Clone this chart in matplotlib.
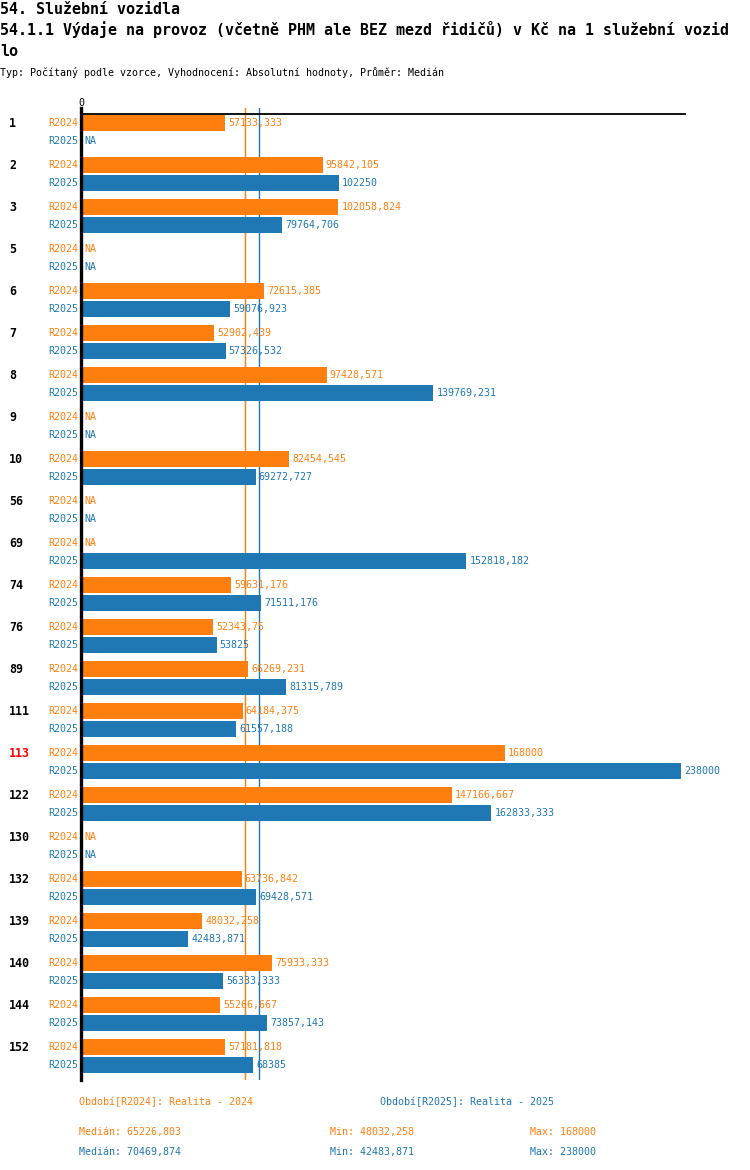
import numpy as np
import matplotlib
matplotlib.use("Agg")
import matplotlib.pyplot as plt

# ---- data ----
groups = ["1", "2", "3", "5", "6", "7", "8", "9", "10", "56", "69", "74", "76",
          "89", "111", "113", "122", "130", "132", "139", "140", "144", "152"]
highlight = "113"
r2024 = [57133.333, 95842.105, 102058.824, None, 72615.385, 52902.439, 97428.571,
         None, 82454.545, None, None, 59631.176, 52343.75, 66269.231, 64184.375,
         168000, 147166.667, None, 63736.842, 48032.258, 75933.333, 55266.667, 57181.818]
r2025 = [None, 102250, 79764.706, None, 59076.923, 57326.532, 139769.231,
         None, 69272.727, None, 152818.182, 71511.176, 53825, 81315.789, 61557.188,
         238000, 162833.333, None, 69428.571, 42483.871, 56333.333, 73857.143, 68385]
series_names = ["R2024", "R2025"]
median_2024 = 65226.803
median_2025 = 70469.874
summary_2024 = ["Medián: 65226,803", "Min: 48032,258", "Max: 168000"]
summary_2025 = ["Medián: 70469,874", "Min: 42483,871", "Max: 238000"]
legend_2024 = "Období[R2024]: Realita - 2024"
legend_2025 = "Období[R2025]: Realita - 2025"
title1 = "54. Služební vozidla"
title2 = "54.1.1 Výdaje na provoz (včetně PHM ale BEZ mezd řidičů) v Kč na 1 služební vozid"
title3 = "lo"
subtitle = "Typ: Počítaný podle vzorce, Vyhodnocení: Absolutní hodnoty, Průměr: Medián"

ORANGE = "#ff7f0e"
BLUE = "#1f77b4"
MONO = ["DejaVu Sans Mono"]

W, H = 750, 1170
fig = plt.figure(figsize=(W / 100, H / 100), dpi=100)

def fx(px):
    return px / W

def fy(py):
    return 1 - py / H

# axes in pixel layout
ax_left, ax_right, ax_top, ax_bottom = 81, 686, 108, 1080
ax = fig.add_axes([fx(ax_left), fy(ax_bottom), fx(ax_right - ax_left), (ax_bottom - ax_top) / H])

unit = 42.0  # pixels per group
off = 18 / unit
bh = 16 / unit
y_top = -15 / unit
y_bot = y_top + (ax_bottom - ax_top) / unit
ax.set_xlim(0, 240000)
ax.set_ylim(y_bot, y_top)

for s in ["top", "right", "bottom"]:
    ax.spines[s].set_visible(False)
ax.spines["left"].set_linewidth(2.4)
ax.spines["left"].set_color("black")
ax.set_xticks([])
ax.set_yticks([])

# median lines
ax.axvline(median_2024, color=ORANGE, lw=1, zorder=1)
ax.axvline(median_2025, color=BLUE, lw=1, zorder=1)
# top line
ax.axhline(-9 / unit, color="black", lw=1.3, zorder=3, xmin=0, xmax=1)
ax.text(0, -20 / unit, "0", ha="center", va="center", fontsize=7.2,
        family=MONO, clip_on=False)

def fmt(v):
    s = f"{v:.3f}".rstrip("0").rstrip(".")
    return s.replace(".", ",")

for i, g in enumerate(groups):
    for j, (vals, col, name) in enumerate([(r2024, ORANGE, "R2024"), (r2025, BLUE, "R2025")]):
        y = i + j * off
        v = vals[i]
        ax.text(-3 * 240000 / 605, y, name, ha="right", va="center", color=col,
                fontsize=7.2, family=MONO, clip_on=False)
        if v is None:
            ax.annotate("NA", (0, y), xytext=(2.2, 0), textcoords="offset points",
                        ha="left", va="center", color=col, fontsize=7.2,
                        family=MONO, annotation_clip=False)
        else:
            ax.barh(y, v, height=bh, color=col, zorder=2)
            ax.annotate(fmt(v), (v, y), xytext=(2.2, 0), textcoords="offset points",
                        ha="left", va="center", color=col, fontsize=7.2,
                        family=MONO, annotation_clip=False, zorder=4)
    ax.text(-72 * 240000 / 605, i, g, ha="left", va="center", fontsize=8.4,
            fontweight="bold", family=MONO,
            color="#ff0000" if g == highlight else "black", clip_on=False)

# titles
fig.text(fx(0), fy(9), title1, fontsize=10.8, fontweight="bold", family=MONO,
         ha="left", va="center")
fig.text(fx(0), fy(30), title2, fontsize=10.8, fontweight="bold", family=MONO,
         ha="left", va="center")
fig.text(fx(0), fy(51), title3, fontsize=10.8, fontweight="bold", family=MONO,
         ha="left", va="center")
fig.text(fx(0), fy(73), subtitle, fontsize=7.2, family=MONO, ha="left", va="center")

# footer
fig.text(fx(79), fy(1102), legend_2024, color=ORANGE, fontsize=7.2, family=MONO,
         ha="left", va="center")
fig.text(fx(380), fy(1102), legend_2025, color=BLUE, fontsize=7.2, family=MONO,
         ha="left", va="center")
xs = [79, 330, 530]
for k in range(3):
    fig.text(fx(xs[k]), fy(1132), summary_2024[k], color=ORANGE, fontsize=7.2,
             family=MONO, ha="left", va="center")
    fig.text(fx(xs[k]), fy(1152), summary_2025[k], color=BLUE, fontsize=7.2,
             family=MONO, ha="left", va="center")

fig.savefig("out.png", dpi=100)
